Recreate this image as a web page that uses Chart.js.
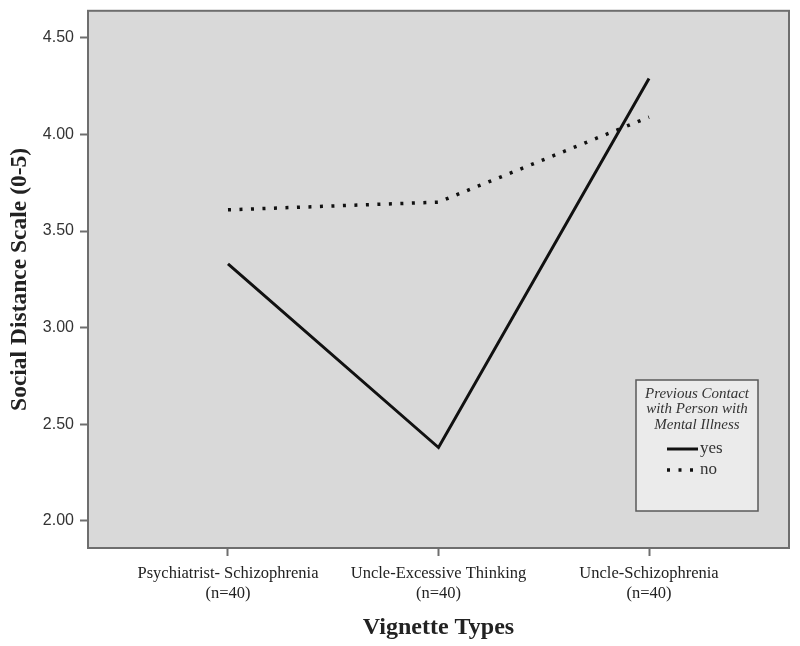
<!DOCTYPE html>
<html>
<head>
<meta charset="utf-8">
<script src="https://cdn.jsdelivr.net/npm/chart.js@4.4.0/dist/chart.umd.min.js"></script>
<style>
  html, body { margin: 0; padding: 0; background: #fff; }
  #wrap { width: 800px; height: 646px; }
</style>
</head>
<body>
<div id="wrap"><canvas id="chart" width="800" height="646"></canvas></div>
<script>
// данные
const categories = [
  ["Psychiatrist- Schizophrenia", "(n=40)"],
  ["Uncle-Excessive Thinking", "(n=40)"],
  ["Uncle-Schizophrenia", "(n=40)"]
];
const yesValues = [3.33, 2.38, 4.29];
const noValues = [3.61, 3.65, 4.09];
const yTicks = [2.0, 2.5, 3.0, 3.5, 4.0, 4.5];
const legendTitle = ["Previous Contact", "with Person with", "Mental Illness"];
const seriesNames = ["yes", "no"];

// фон и рамка области графика
const framePlugin = {
  id: "frame",
  beforeDraw(chart) {
    const { ctx, chartArea: a } = chart;
    ctx.save();
    ctx.fillStyle = "#d9d9d9";
    ctx.fillRect(a.left, a.top, a.right - a.left, a.bottom - a.top);
    ctx.restore();
  },
  afterDraw(chart) {
    const { ctx, chartArea: a } = chart;
    ctx.save();
    ctx.strokeStyle = "#6e6e6e";
    ctx.lineWidth = 2;
    ctx.strokeRect(a.left, a.top, a.right - a.left, a.bottom - a.top);
    ctx.restore();
  }
};

// легенда в стиле SPSS
const legendBox = {
  id: "legendBox",
  afterDraw(chart) {
    const { ctx, chartArea: a } = chart;
    const w = 122, h = 131;
    const x = a.right - 31 - w, y = a.bottom - 37 - h;
    const cx = x + w / 2;
    ctx.save();
    ctx.fillStyle = "#ebebeb";
    ctx.fillRect(x, y, w, h);
    ctx.strokeStyle = "#5a5a5a";
    ctx.lineWidth = 1.5;
    ctx.strokeRect(x, y, w, h);

    ctx.fillStyle = "#333";
    ctx.font = "italic 15px 'Liberation Serif'";
    ctx.textAlign = "center";
    ctx.textBaseline = "middle";
    legendTitle.forEach((t, i) => ctx.fillText(t, cx, y + 14 + i * 15.5));

    const ds = chart.data.datasets;
    seriesNames.forEach((name, i) => {
      const ly = y + 69 + i * 21;
      ctx.beginPath();
      ctx.strokeStyle = "#111";
      ctx.lineWidth = ds[i].borderWidth;
      ctx.setLineDash(ds[i].borderDash || []);
      ctx.moveTo(x + 31, ly);
      ctx.lineTo(x + 62, ly);
      ctx.stroke();
      ctx.setLineDash([]);
      ctx.fillStyle = "#333";
      ctx.font = "17px 'Liberation Serif'";
      ctx.textAlign = "left";
      ctx.fillText(name, x + 64, ly);
    });
    ctx.restore();
  }
};

const ctx = document.getElementById("chart").getContext("2d");
new Chart(ctx, {
  type: "line",
  data: {
    datasets: [
      {
        label: seriesNames[0],
        data: yesValues.map((v, i) => ({ x: i, y: v })),
        borderColor: "#111",
        borderWidth: 3,
        pointRadius: 0,
        tension: 0,
        fill: false
      },
      {
        label: seriesNames[1],
        data: noValues.map((v, i) => ({ x: i, y: v })),
        borderColor: "#111",
        borderWidth: 3.5,
        borderDash: [3, 8.5],
        pointRadius: 0,
        tension: 0,
        fill: false
      }
    ]
  },
  options: {
    responsive: false,
    animation: false,
    devicePixelRatio: 1,
    layout: { padding: { left: 6, top: 3, right: 11, bottom: 4 } },
    plugins: {
      legend: { display: false },
      tooltip: { enabled: false }
    },
    scales: {
      x: {
        type: "linear",
        min: -0.665,
        max: 2.665,
        afterBuildTicks(scale) {
          scale.ticks = categories.map((c, i) => ({ value: i }));
        },
        afterFit(scale) { scale.height = 94; },
        grid: {
          drawOnChartArea: false,
          drawTicks: true,
          tickLength: 8,
          tickWidth: 2,
          tickColor: "#6e6e6e"
        },
        border: { display: false },
        ticks: {
          autoSkip: false,
          maxRotation: 0,
          padding: 8,
          color: "#222",
          font: { family: "Liberation Serif", size: 16.5, lineHeight: 1.2 },
          callback: v => categories[v]
        },
        title: {
          display: true,
          text: "Vignette Types",
          color: "#222",
          font: { family: "Liberation Serif", size: 24, weight: "bold" },
          padding: { top: 2, bottom: 0 }
        }
      },
      y: {
        min: 1.86,
        max: 4.64,
        afterBuildTicks(scale) {
          scale.ticks = yTicks.map(v => ({ value: v }));
        },
        afterFit(scale) { scale.width = 82; },
        grid: {
          drawOnChartArea: false,
          drawTicks: true,
          tickLength: 8,
          tickWidth: 2,
          tickColor: "#6e6e6e"
        },
        border: { display: false },
        ticks: {
          padding: 6,
          color: "#333",
          font: { family: "Liberation Sans", size: 16, lineHeight: 0.6 },
          callback: v => Number(v).toFixed(2)
        },
        title: {
          display: true,
          text: "Social Distance Scale (0-5)",
          color: "#222",
          font: { family: "Liberation Serif", size: 23.5, weight: "bold" },
          padding: { top: 0, bottom: 0 }
        }
      }
    }
  },
  plugins: [framePlugin, legendBox]
});
</script>
</body>
</html>
